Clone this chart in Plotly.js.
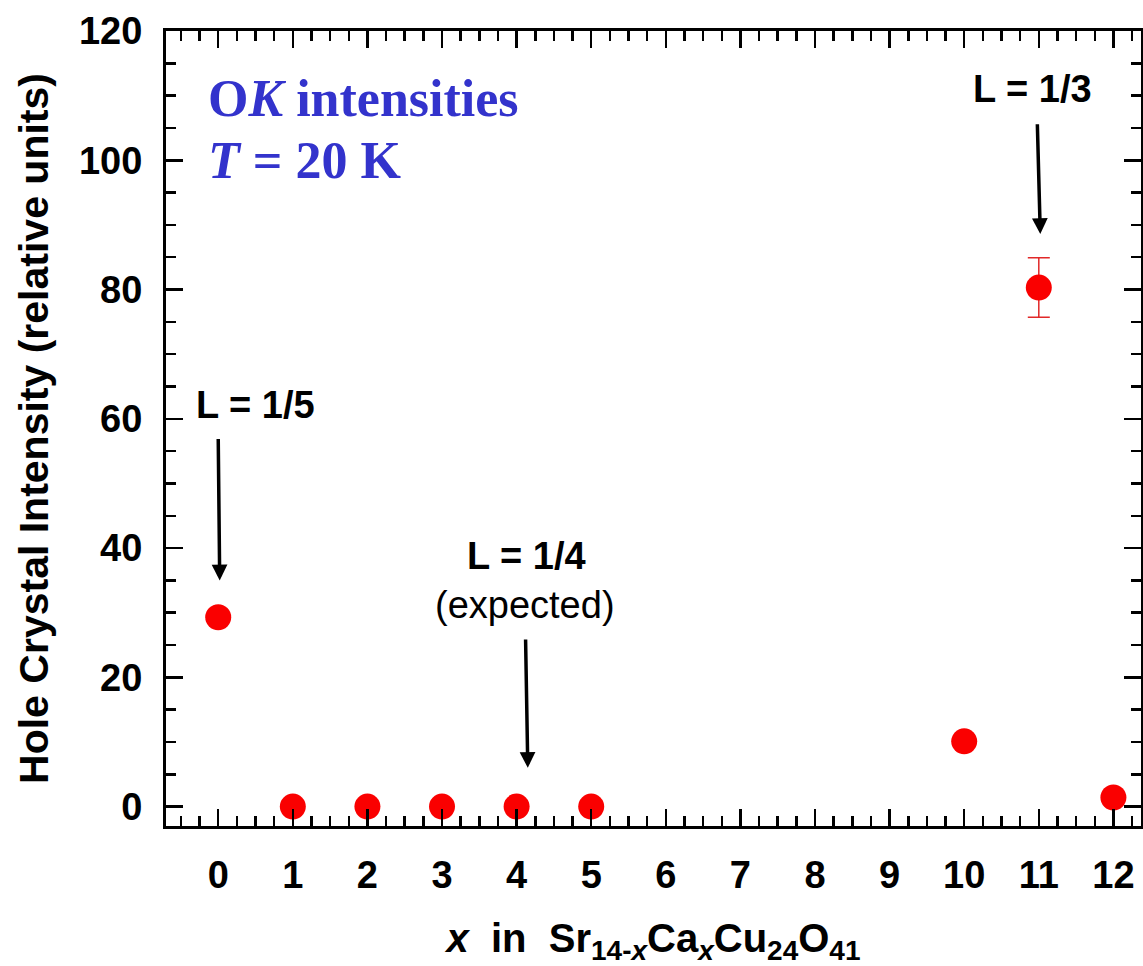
<!DOCTYPE html>
<html>
<head>
<meta charset="utf-8">
<script src="https://cdn.plot.ly/plotly-3.0.1.min.js"></script>
<style>html,body{margin:0;padding:0;background:#fff;}#chart{width:1143px;height:966px;}</style>
</head>
<body>
<div id="chart"></div>
<script>
// Data
const xValues = [0, 1, 2, 3, 4, 5, 10, 11, 12];
const intensity = [29.3, 0, 0, 0, 0, 0, 10.1, 80.3, 1.4];
const intensityErr = [0, 0, 0, 0, 0, 0, 0, 4.6, 0];
const xTickVals = [0, 1, 2, 3, 4, 5, 6, 7, 8, 9, 10, 11, 12];
const yTickVals = [0, 20, 40, 60, 80, 100, 120];

const trace = {
  x: xValues,
  y: intensity,
  type: 'scatter',
  mode: 'markers',
  marker: {color: 'rgb(250,0,0)', size: 26, line: {width: 0}},
  error_y: {type: 'data', array: intensityErr, visible: true, color: 'rgb(225,40,40)', thickness: 1.5, width: 11},
  showlegend: false,
  hoverinfo: 'x+y'
};

const sansBold = {family: '"Liberation Sans", Arial, Helvetica, sans-serif', size: 38, color: '#000', weight: 'bold'};
const tickBold = {family: '"Liberation Sans", Arial, Helvetica, sans-serif', size: 38, color: '#000', weight: 'bold'};
const sansReg = {family: '"Liberation Sans", Arial, Helvetica, sans-serif', size: 38, color: '#000'};
const serifBlue = {family: '"Liberation Serif", "Times New Roman", serif', size: 52, color: '#3333cc', weight: 'bold'};

const arrowStyle = {showarrow: true, arrowhead: 2, arrowsize: 0.9, arrowwidth: 3.5, arrowcolor: '#000', text: '', axref: 'x', ayref: 'y', xref: 'x', yref: 'y', standoff: 0, startstandoff: 0};

const layout = {
  width: 1143,
  height: 966,
  margin: {l: 166, r: 2, t: 31, b: 140},
  paper_bgcolor: '#fff',
  plot_bgcolor: '#fff',
  xaxis: {
    range: [-0.7, 12.37],
    tickmode: 'array',
    tickvals: xTickVals,
    ticktext: xTickVals.map(String),
    ticks: 'inside', ticklen: 17, tickwidth: 2.5, tickcolor: '#000',
    minor: {dtick: 0.25, tick0: 0, ticks: 'inside', ticklen: 10, tickwidth: 2.5, tickcolor: '#000', showgrid: false},
    showline: true, linewidth: 3, linecolor: '#000', mirror: 'allticks',
    showgrid: false, zeroline: false,
    tickfont: tickBold,
    ticklabelstandoff: 13,
    automargin: false,
    title: {text: '<i>x</i>\u00A0\u00A0in\u00A0\u00A0Sr<sub>14-<i>x</i></sub>Ca<sub><i>x</i></sub>Cu<sub>24</sub>O<sub>41</sub>', font: {family: '"Liberation Sans", Arial, sans-serif', size: 40, color: '#000', weight: 'bold'}, standoff: 38}
  },
  yaxis: {
    range: [-3, 120],
    tickmode: 'array',
    tickvals: yTickVals,
    ticktext: yTickVals.map(String),
    ticks: 'inside', ticklen: 17, tickwidth: 2.5, tickcolor: '#000',
    minor: {dtick: 5, tick0: 0, ticks: 'inside', ticklen: 10, tickwidth: 2.5, tickcolor: '#000', showgrid: false},
    showline: true, linewidth: 3, linecolor: '#000', mirror: 'allticks',
    showgrid: false, zeroline: false,
    tickfont: tickBold,
    ticklabelstandoff: 13,
    automargin: false,
    title: {text: 'Hole Crystal Intensity (relative units)', font: {family: '"Liberation Sans", Arial, sans-serif', size: 41, color: '#000', weight: 'bold'}, standoff: 18}
  },
  annotations: [
    {xref: 'x', yref: 'y', x: -0.16, y: 109.6, xanchor: 'left', yanchor: 'middle', showarrow: false, text: 'O<i>K</i> intensities', font: serifBlue},
    {xref: 'x', yref: 'y', x: -0.16, y: 99.9, xanchor: 'left', yanchor: 'middle', showarrow: false, text: '<i>T</i> = 20 K', font: serifBlue},
    {xref: 'x', yref: 'y', x: 0.5, y: 62.2, xanchor: 'center', yanchor: 'middle', showarrow: false, text: 'L = 1/5', font: sansBold},
    {xref: 'x', yref: 'y', x: 4.13, y: 38.7, xanchor: 'center', yanchor: 'middle', showarrow: false, text: 'L = 1/4', font: sansBold},
    {xref: 'x', yref: 'y', x: 4.11, y: 31.2, xanchor: 'center', yanchor: 'middle', showarrow: false, text: '(expected)', font: sansReg},
    {xref: 'x', yref: 'y', x: 10.91, y: 111.0, xanchor: 'center', yanchor: 'middle', showarrow: false, text: 'L = 1/3', font: sansBold},
    Object.assign({}, arrowStyle, {x: 0.02, y: 35.0, ax: 0.0, ay: 57.1}),
    Object.assign({}, arrowStyle, {x: 4.15, y: 6.0, ax: 4.12, ay: 26.1}),
    Object.assign({}, arrowStyle, {x: 11.02, y: 88.6, ax: 10.98, ay: 105.8})
  ]
};

Plotly.newPlot('chart', [trace], layout, {displayModeBar: false, staticPlot: true});
</script>
</body>
</html>
